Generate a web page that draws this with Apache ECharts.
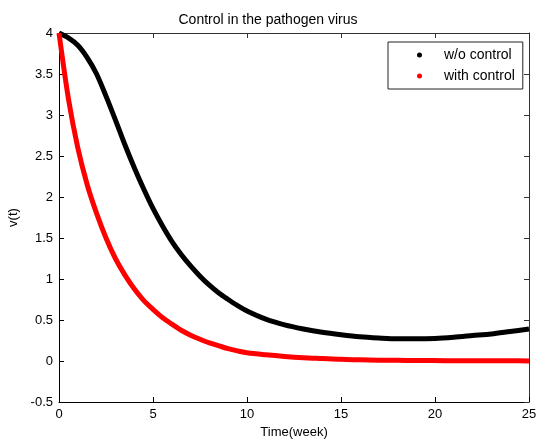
<!DOCTYPE html>
<html>
<head>
<meta charset="utf-8">
<script src="https://cdn.jsdelivr.net/npm/echarts@6/dist/echarts.min.js"></script>
<style>html,body{margin:0;padding:0;background:#fff}#c{width:536px;height:441px}</style>
</head>
<body>
<div id="c"></div>
<script>
var titleText = 'Control in the pathogen virus';
var xName = 'Time(week)';
var yName = 'v(t)';
var seriesNames = ['w/o control', 'with control'];
var tVals = [0,0.5,1,1.5,2,2.5,3,3.5,4,4.5,5,5.5,6,6.5,7,7.5,8,8.5,9,9.5,10,11,12,13,14,15,16,17,18,19,20,21,22,23,24,25];
var withoutControl = [4.0,3.94,3.85,3.7,3.5,3.23,2.94,2.64,2.36,2.1,1.86,1.65,1.46,1.3,1.16,1.035,0.925,0.83,0.75,0.675,0.61,0.51,0.44,0.39,0.35,0.32,0.295,0.28,0.27,0.27,0.275,0.29,0.31,0.33,0.36,0.39];
var withControl = [4.0,3.2,2.6,2.15,1.8,1.5,1.25,1.05,0.88,0.74,0.63,0.53,0.45,0.375,0.315,0.265,0.22,0.185,0.15,0.123,0.1,0.075,0.055,0.04,0.03,0.02,0.015,0.01,0.008,0.006,0.005,0.004,0.003,0.002,0.002,0.001];
var xMin = 0, xMax = 25, xStep = 5;
var yMin = -0.5, yMax = 4, yStep = 0.5;

function pairs(xs, ys){ return xs.map(function(x,i){ return [x, ys[i]]; }); }
var font = 'Liberation Sans, Arial, sans-serif';
var chart = echarts.init(document.getElementById('c'), null, {renderer:'canvas'});
function frameAxis(col){
  return {
    axisLine:{show:true, onZero:false, lineStyle:{color:col, width:1}},
    axisTick:{show:true, inside:true, length:5, lineStyle:{color:col}},
    splitLine:{show:false}
  };
}
chart.setOption({
  animation:false,
  backgroundColor:'#fff',
  title:{text:titleText, left:'center', top:8, textStyle:{fontFamily:font, fontSize:14, fontWeight:'normal', color:'#000'}},
  grid:{left:59, right:7, top:33, bottom:39, containLabel:false, outerBoundsMode:'none'},
  legend:{
    data:[{name:seriesNames[0], icon:'circle'},{name:seriesNames[1], icon:'circle'}],
    orient:'vertical', left:388, top:42,
    itemWidth:5, itemHeight:5, itemGap:7,
    padding:[6,8,6,29],
    backgroundColor:'#fff', borderColor:'#222', borderWidth:1, borderRadius:0,
    textStyle:{fontFamily:font, fontSize:14, color:'#000', padding:[0,0,0,17], lineHeight:12}
  },
  xAxis:[
    Object.assign({type:'value', min:xMin, max:xMax, interval:xStep, position:'bottom',
      name:xName, nameLocation:'middle', nameGap:24,
      nameTextStyle:{fontFamily:font, fontSize:13, color:'#000'},
      axisLabel:{fontFamily:font, fontSize:13, color:'#000', margin:6}}, frameAxis('#000')),
    Object.assign({type:'value', min:xMin, max:xMax, interval:xStep, position:'top',
      axisLabel:{show:false}}, frameAxis('#333'))
  ],
  yAxis:[
    Object.assign({type:'value', min:yMin, max:yMax, interval:yStep, position:'left',
      name:yName, nameLocation:'middle', nameGap:38, nameRotate:90,
      nameTextStyle:{fontFamily:font, fontSize:13, color:'#000'},
      axisLabel:{fontFamily:font, fontSize:13, color:'#000', margin:6}}, frameAxis('#000')),
    Object.assign({type:'value', min:yMin, max:yMax, interval:yStep, position:'right',
      axisLabel:{show:false}}, frameAxis('#333'))
  ],
  series:[
    {name:seriesNames[0], type:'line', xAxisIndex:0, yAxisIndex:0, data:pairs(tVals, withoutControl),
     smooth:0.3, showSymbol:false, color:'#000', lineStyle:{color:'#000', width:5}},
    {name:seriesNames[1], type:'line', xAxisIndex:0, yAxisIndex:0, data:pairs(tVals, withControl),
     smooth:0.3, showSymbol:false, color:'#ff0000', lineStyle:{color:'#ff0000', width:5}}
  ]
});
</script>
</body>
</html>
